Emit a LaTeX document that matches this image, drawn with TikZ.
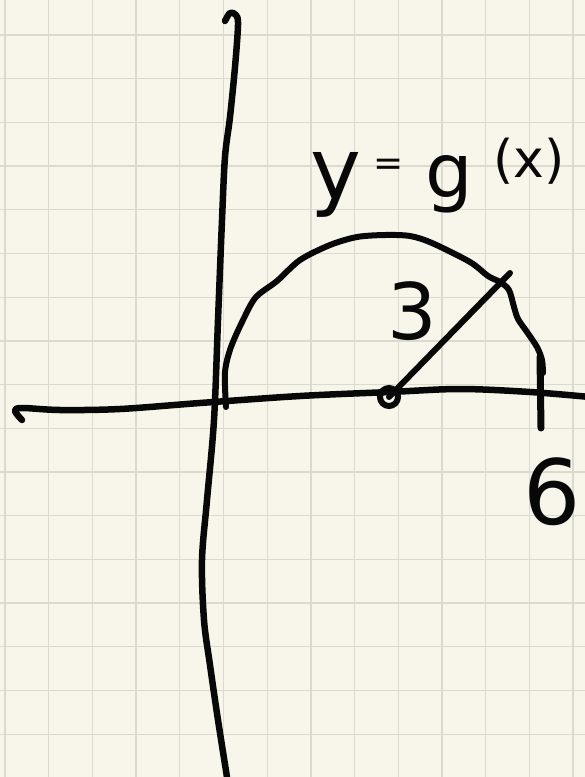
\documentclass[tikz,border=0pt]{standalone}
\usepackage{fontspec}
\setmainfont{DejaVu Sans}
\definecolor{paper}{HTML}{F8F6EB}
\definecolor{gridc}{HTML}{DADACF}
\definecolor{inkc}{HTML}{080808}
\begin{document}
\begin{tikzpicture}[x=1pt,y=-1pt,
  inkline/.style={line width=6.5pt, line cap=round, line join=round, draw=inkc},
  gridline/.style={line width=1.3pt, draw=gridc},
  hand/.style={inner sep=0pt, text=inkc}]
\fill[paper] (0,0) rectangle (585,777);
\useasboundingbox (0,0) rectangle (585,777);
\foreach \i in {0,...,13} \draw[gridline] ({5+43.7*\i},0) -- ({5+43.7*\i},777);
\foreach \j in {0,...,16} \draw[gridline] (0,{35+43.7*\j}) -- (585,{35+43.7*\j});
% vertical axis
\draw[inkline] plot[smooth, tension=0.55] coordinates {(225,21) (230,13) (236,15) (238,25) (235,67) (230,117) (225,157) (222,220) (218,320) (214,420) (207,500) (202,560) (204,620) (210,665) (218,720) (227,777)};
% horizontal axis
\draw[inkline] plot[smooth, tension=0.55] coordinates {(22,420) (15,411) (22,408) (60,410) (120,409) (200,403) (300,396) (390,392) (460,389) (530,392) (590,397)};
% semicircle
\draw[inkline, line width=6pt] plot[smooth, tension=0.5] coordinates {(226,407) (225,372) (231,347) (244,318) (256,297) (277,281) (300,260) (330,245) (357,237) (385,235) (410,236) (432,243) (470,262) (488,276) (500,282) (509,290) (514,307) (518,319) (527,332) (537,347) (542,360) (543,373)};
% tick at 6
\coordinate (tt) at (540,357);
\coordinate (tb) at (541,428);
\draw[inkline, line width=7pt] (tt) -- (tb);
% radius
\node[circle, draw=inkc, line width=6pt, minimum size=18pt, inner sep=0pt] (ctr) at (389,397) {};
\coordinate (rend) at (510,273);
\draw[inkline, line width=6pt] (ctr.center) -- (rend);
% labels
\node[hand, font=\fontsize{86pt}{86pt}\selectfont] (ly) at (336,185) {y};
\node[hand, font=\fontsize{36pt}{36pt}\selectfont] (leq) at (389,167) {=};
\node[hand, font=\fontsize{75pt}{75pt}\selectfont] (lg) at (449,184) {g};
\node[hand, font=\fontsize{52pt}{52pt}\selectfont] (lx) at (529,161) {(x)};
\node[hand, font=\fontsize{78pt}{78pt}\selectfont] (l3) at (412,311) {3};
\node[hand, font=\fontsize{90pt}{90pt}\selectfont] (l6) at (552,492) {6};
\end{tikzpicture}
\end{document}
